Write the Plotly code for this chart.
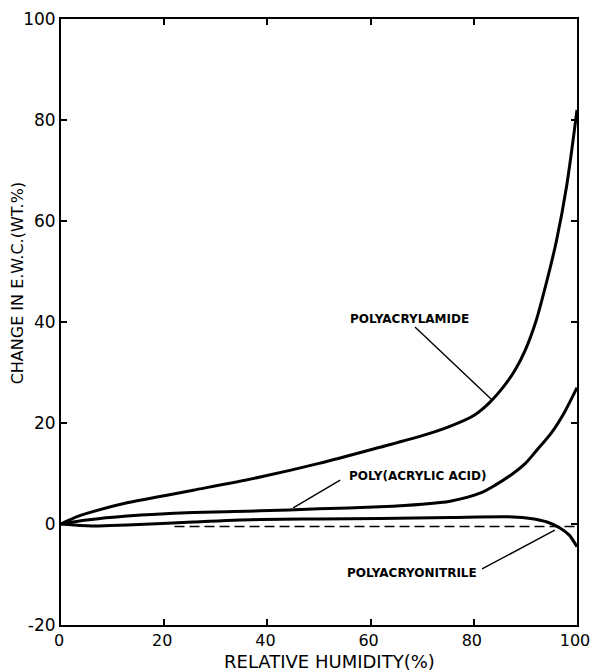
import plotly.graph_objects as go

# Data
pam_x = [0, 3, 5, 12.8, 20, 25.6, 38.6, 50, 61.8, 70, 75, 80, 83, 86, 88, 90, 92, 94, 96, 98, 100]
pam_y = [0, 1.4, 2.1, 4.2, 5.6, 6.7, 9.3, 12, 15.2, 17.5, 19.2, 21.5, 24, 27.5, 30.5, 34.5, 40, 47.5, 56, 67, 82]

paa_x = [0, 5, 12.8, 25.6, 38.6, 50, 61.8, 70, 75.4, 81.2, 84, 87.6, 90, 92.2, 95, 97.5, 100]
paa_y = [0, 0.8, 1.6, 2.3, 2.6, 3.0, 3.4, 3.9, 4.5, 6.1, 7.6, 10, 12, 14.6, 18, 22, 27]

pan_x = [0, 6, 12.8, 25.6, 38.6, 50, 61.8, 75.4, 87.6, 91, 94.2, 96.7, 98.5, 100]
pan_y = [0, -0.4, -0.2, 0.4, 0.9, 1.0, 1.1, 1.3, 1.4, 1.1, 0.4, -0.8, -2.2, -4.5]

ref_x = [22, 100]
ref_y = [-0.5, -0.5]

x_ticks = [0, 20, 40, 60, 80, 100]
y_ticks = [-20, 0, 20, 40, 60, 80, 100]

labels = ["POLYACRYLAMIDE", "POLY(ACRYLIC ACID)", "POLYACRYONITRILE"]
label_pos = [(67.5, 40.5), (69.0, 9.5), (68.0, -9.7)]
leader_from = [(68.6, 39.0), (54.1, 8.7), (81.6, -8.9)]
leader_to = [(83.5, 24.6), (45.0, 3.2), (95.7, -1.2)]

FONT = "DejaVu Sans"

fig = go.Figure()
for xs, ys in [(pam_x, pam_y), (paa_x, paa_y), (pan_x, pan_y)]:
    fig.add_trace(go.Scatter(x=xs, y=ys, mode="lines",
                             line=dict(color="black", width=3, shape="spline", smoothing=0.8),
                             showlegend=False, hoverinfo="skip"))
fig.add_trace(go.Scatter(x=ref_x, y=ref_y, mode="lines",
                         line=dict(color="black", width=1.6, dash="10px,5px"),
                         showlegend=False, hoverinfo="skip"))

for (fx, fy), (tx, ty) in zip(leader_from, leader_to):
    fig.add_trace(go.Scatter(x=[fx, tx], y=[fy, ty], mode="lines",
                             line=dict(color="black", width=1.4),
                             showlegend=False, hoverinfo="skip"))

annotations = []
for txt, (ax, ay) in zip(labels, label_pos):
    annotations.append(dict(x=ax, y=ay, xref="x", yref="y", text="<b>" + txt + "</b>",
                            showarrow=False, font=dict(family=FONT, size=12, color="black"),
                            xanchor="center", yanchor="middle"))
annotations.append(dict(x=-0.085, y=0.564, xref="paper", yref="paper",
                        text="CHANGE IN E.W.C.(WT.%)", textangle=-90, showarrow=False,
                        font=dict(family=FONT, size=16, color="black"),
                        xanchor="center", yanchor="middle"))
annotations.append(dict(x=0.52, y=-0.06, xref="paper", yref="paper",
                        text="RELATIVE HUMIDITY(%)", showarrow=False,
                        font=dict(family=FONT, size=18, color="black"),
                        xanchor="center", yanchor="middle"))

axis_common = dict(showgrid=False, zeroline=False, showline=True, linecolor="black",
                   linewidth=2, mirror="ticks", ticks="inside", ticklen=6, tickwidth=1.5,
                   tickcolor="black", automargin=False, ticklabeloverflow="allow")

fig.update_layout(
    width=592, height=672,
    margin=dict(l=61, r=15, t=19, b=47),
    paper_bgcolor="white", plot_bgcolor="white",
    xaxis=dict(range=[0, 100], tickvals=x_ticks, ticktext=[str(v) for v in x_ticks],
               tickfont=dict(family=FONT, size=16, color="black"), ticklabelshift=-2,
               **axis_common),
    yaxis=dict(range=[-20, 100], tickvals=y_ticks, ticktext=[str(v) for v in y_ticks],
               tickfont=dict(family=FONT, size=17, color="black"), **axis_common),
    annotations=annotations,
    showlegend=False,
)

fig.write_html("out.html", config={"displayModeBar": False},
               post_script="document.body.style.margin='0';document.body.style.overflow='hidden';")
